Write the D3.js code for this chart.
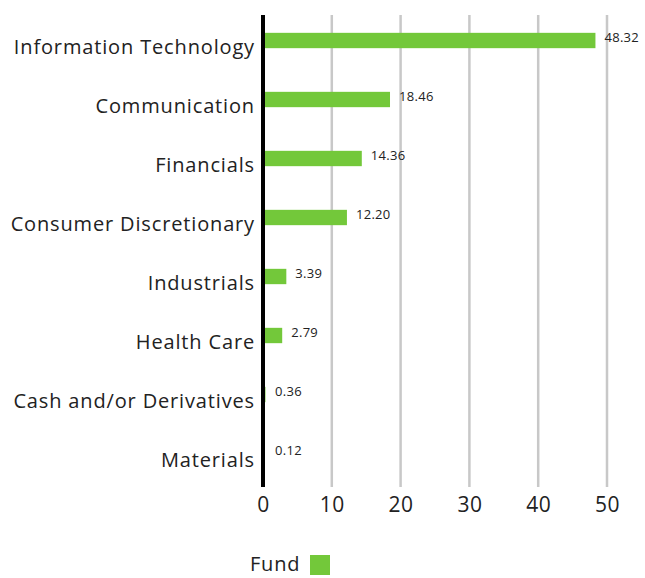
<!DOCTYPE html>
<html>
<head>
<meta charset="utf-8">
<script src="https://cdn.jsdelivr.net/npm/d3@7"></script>
<style>
  body { margin: 0; background: #fff; }
  text { font-family: "Open Sans", sans-serif; }
</style>
</head>
<body>
<svg id="viz"></svg>
<script>
// data
var sectors = ['Information Technology', 'Communication', 'Financials', 'Consumer Discretionary',
               'Industrials', 'Health Care', 'Cash and/or Derivatives', 'Materials'];
var fundValues = [48.32, 18.46, 14.36, 12.20, 3.39, 2.79, 0.36, 0.12];
var xTicks = [0, 10, 20, 30, 40, 50];
var seriesName = 'Fund';

var width = 645, height = 578;
var margin = { top: 15, left: 263, right: 38, bottom: 91 };
var drawWidth = width - margin.left - margin.right;   // 344
var drawHeight = height - margin.top - margin.bottom; // 472

var GREEN = '#73c83a';

var svg = d3.select('#viz').attr('width', width).attr('height', height);
var g = svg.append('g').attr('transform', `translate(${margin.left}, ${margin.top})`);

var xScale = d3.scaleLinear().domain([0, 50]).range([0, drawWidth]);
var yScale = d3.scaleBand().domain(sectors).range([-4, drawHeight - 4]).paddingInner(0.74).paddingOuter(0.37);

// grid lines
g.selectAll('.grid')
  .data(xTicks.slice(1))
  .enter().append('line')
  .attr('class', 'grid')
  .attr('x1', d => xScale(d)).attr('x2', d => xScale(d))
  .attr('y1', 0).attr('y2', drawHeight)
  .attr('stroke', '#c8c8c8')
  .attr('stroke-width', 2.5);

// bars
var data = sectors.map((s, i) => ({ name: s, value: fundValues[i] }));
g.selectAll('rect.bar')
  .data(data)
  .enter().append('rect')
  .attr('class', 'bar')
  .attr('x', xScale(0) + 1)
  .attr('y', d => yScale(d.name))
  .attr('width', d => Math.max(0, xScale(d.value) - 1))
  .attr('height', yScale.bandwidth())
  .attr('fill', GREEN);

// value labels
g.selectAll('text.value')
  .data(data)
  .enter().append('text')
  .attr('class', 'value')
  .attr('x', d => Math.max(xScale(d.value), 3) + 9)
  .attr('y', d => yScale(d.name) + yScale.bandwidth() / 2 - 2)
  .attr('dominant-baseline', 'middle')
  .attr('font-size', 13)
  .attr('letter-spacing', 0.3)
  .attr('fill', '#222')
  .text(d => d.value.toFixed(2));

// category labels
g.selectAll('text.cat')
  .data(data)
  .enter().append('text')
  .attr('class', 'cat')
  .attr('x', -8)
  .attr('y', d => yScale(d.name) + yScale.bandwidth() / 2 + 8)
  .attr('dominant-baseline', 'middle')
  .attr('text-anchor', 'end')
  .attr('font-size', 20)
  .attr('letter-spacing', 0.85)
  .attr('fill', '#222')
  .text(d => d.name);

// zero axis line
g.append('line')
  .attr('x1', xScale(0)).attr('x2', xScale(0))
  .attr('y1', 0).attr('y2', drawHeight)
  .attr('stroke', '#000')
  .attr('stroke-width', 4);

// x tick labels
var xAxis = d3.axisBottom(xScale).tickValues(xTicks).tickSize(0).tickPadding(10);
var xAxisG = g.append('g')
  .attr('transform', `translate(0, ${drawHeight})`)
  .call(xAxis);
xAxisG.select('.domain').remove();
xAxisG.selectAll('text')
  .attr('font-size', 21)
  .attr('font-family', '"Open Sans", sans-serif')
  .attr('letter-spacing', 0.5)
  .attr('fill', '#222');

// legend
var legend = svg.append('g').attr('transform', 'translate(250, 554)');
legend.append('text')
  .attr('x', 0).attr('y', 12)
  .attr('dominant-baseline', 'middle')
  .attr('font-size', 20)
  .attr('letter-spacing', 0.8)
  .attr('fill', '#222')
  .text(seriesName);
legend.append('rect')
  .attr('x', 60).attr('y', 1)
  .attr('width', 20).attr('height', 20)
  .attr('fill', GREEN);
</script>
</body>
</html>
